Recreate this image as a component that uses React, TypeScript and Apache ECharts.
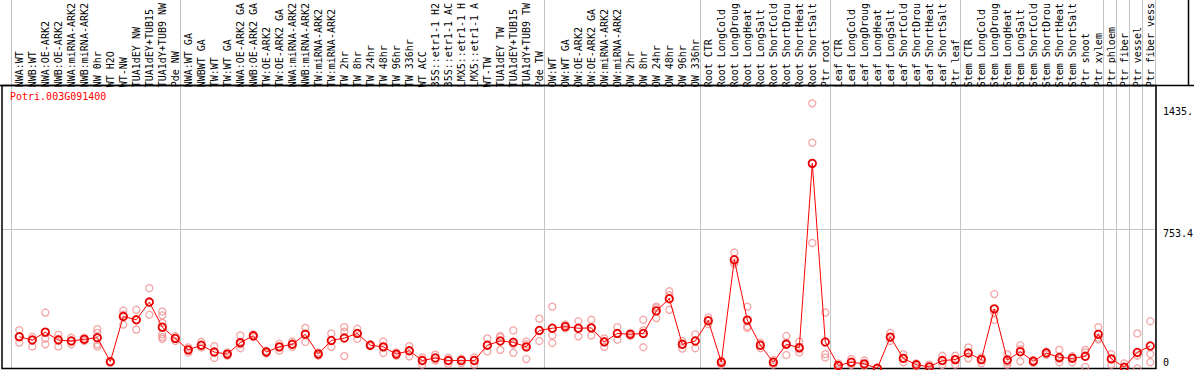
import React, { useEffect, useRef } from 'react';
import * as echarts from 'echarts';

const geneName = 'Potri.003G091400';

const categories = [
  'NWA:WT', 'NWB:WT', 'NWA:OE-ARK2', 'NWB:OE-ARK2', 'NWA:miRNA-ARK2', 'NWB:miRNA-ARK2', 'NW 0hr', 'WT H2O',
  'WT-NW', 'TUA1dEY NW', 'TUA1dEY+TUB15', 'TUA1dY+TUB9 NW', 'Pde NW',
  'NWA:WT GA', 'NWBWT GA', 'TW:WT', 'TW:WT GA', 'NWA:OE-ARK2 GA', 'NWB:OE-ARK2 GA', 'TW:OE-ARK2', 'TW:OE-ARK2 GA',
  'NWA:miRNA-ARK2', 'NWB:miRNA-ARK2', 'TW:miRNA-ARK2', 'TW:miRNA-ARK2', 'TW 2hr', 'TW 8hr', 'TW 24hr', 'TW 48hr',
  'TW 96hr', 'TW 336hr', 'WT ACC', '35S::etr1-1 H2', '35S::etr1-1 AC', 'LMX5::etr1-1 H', 'LMX5::etr1-1 A',
  'WT-TW', 'TUA1dEY TW', 'TUA1dEY+TUB15', 'TUA1dY+TUB9 TW', 'Pde TW',
  'OW:WT', 'OW:WT GA', 'OW:OE-ARK2', 'OW:OE-ARK2 GA', 'OW:miRNA-ARK2', 'OW:miRNA-ARK2', 'OW 2hr', 'OW 8hr',
  'OW 24hr', 'OW 48hr', 'OW 96hr', 'OW 336hr',
  'Root CTR', 'Root LongCold', 'Root LongDroug', 'Root LongHeat', 'Root LongSalt', 'Root ShortCold',
  'Root ShortDrou', 'Root ShortHeat', 'Root ShortSalt', 'Ptr root',
  'Leaf CTR', 'Leaf LongCold', 'Leaf LongDroug', 'Leaf LongHeat', 'Leaf LongSalt', 'Leaf ShortCold',
  'Leaf ShortDrou', 'Leaf ShortHeat', 'Leaf ShortSalt', 'Ptr leaf',
  'Stem CTR', 'Stem LongCold', 'Stem LongDroug', 'Stem LongHeat', 'Stem LongSalt', 'Stem ShortCold',
  'Stem ShortDrou', 'Stem ShortHeat', 'Stem ShortSalt', 'Ptr shoot', 'Ptr xylem',
  'Ptr phloem', 'Ptr fiber', 'Ptr vessel', 'Ptr fiber vess',
];

const means = [
  172, 154, 197, 154, 149, 158, 167, 37, 282, 264,
  360, 224, 163, 101, 126, 89, 78, 140, 177, 89,
  117, 131, 185, 78, 152, 165, 190, 126, 117, 78,
  96, 43, 57, 43, 43, 43, 126, 149, 142, 117,
  206, 218, 227, 218, 220, 144, 190, 185, 190, 312,
  378, 131, 149, 259, 34, 589, 262, 126, 34, 131,
  113, 1111, 144, 16, 34, 25, 1, 170, 55, 20,
  9, 43, 48, 84, 48, 323, 46, 91, 39, 84,
  60, 55, 66, 185, 52, 7, 87, 122,
];

const replicates = [
  [208, 172, 140], [172, 154, 119], [303, 161, 131], [183, 160, 119], [167, 149, 131],
  [167, 158, 149], [213, 193, 131, 119], [41, 37, 33], [314, 291, 238], [318, 264, 211],
  [435, 357, 291], [309, 288, 247, 185, 170, 160], [176, 163, 149], [114, 101, 87], [144, 126, 114],
  [121, 89, 57], [87, 78, 69], [179, 131, 110], [185, 177, 170], [96, 89, 82],
  [135, 117, 96], [146, 131, 117], [220, 190, 144], [87, 78, 69], [190, 152, 117],
  [224, 199, 67], [215, 190, 161], [131, 126, 121], [146, 117, 84], [87, 78, 69],
  [121, 96, 66], [60, 46, 21], [75, 57, 43], [59, 43, 25], [53, 43, 28],
  [60, 46, 21], [163, 126, 92], [176, 170, 101], [206, 131, 85], [146, 131, 117, 51],
  [270, 206, 149], [335, 179, 138], [238, 227, 217], [256, 218, 174], [264, 220, 179],
  [163, 149, 117], [224, 190, 156], [193, 185, 176], [264, 206, 115], [335, 327, 273],
  [419, 397, 318], [149, 131, 108], [185, 149, 110], [277, 259, 241], [43, 39, 21],
  [628, 575, 566], [335, 229, 220], [140, 126, 110], [46, 34, 21], [176, 140, 73],
  [146, 105, 87], [1436, 1223, 680], [303, 78, 60], [28, 16, 7], [52, 34, 20],
  [43, 25, 16], [3, 1, 0], [193, 170, 149], [78, 55, 34], [28, 20, 12],
  [21, 9, 0], [69, 43, 20], [69, 48, 21], [114, 84, 55], [60, 48, 28],
  [403, 300, 264], [78, 34, 21], [126, 105, 39], [46, 39, 32], [92, 84, 75],
  [101, 52, 34], [66, 60, 34], [101, 87, 9], [224, 167, 158], [78, 52, 21],
  [28, 7, 0], [190, 69, 0], [256, 78, 34],
];

// group separators (category-index coordinates)
const separators = [-0.64, 12.36, 40.36, 52.36, 62.36, 72.36, 83.36, 84.36, 85.36, 86.36, 87.36];

const yMax = 1506.8;
const yMid = 753.4;
const yTickLabels = ['0', '753.4', '1435.'];
const yTickValues = [0, 753.4, 1435];

const FONT = 'DejaVu Sans Mono';

export default function App() {
  const ref = useRef<HTMLDivElement>(null);

  useEffect(() => {
    document.body.style.margin = '0';
    const chart = echarts.init(ref.current as HTMLDivElement, null, { renderer: 'svg' });

    const gridLeft = 2;
    const gridTop = 85.5;
    const gridWidth = 1154;
    const gridHeight = 283;
    const xMin = (gridLeft - 19.3) / 13;
    const xMax = (gridLeft + gridWidth - 19.3) / 13;

    const repData: number[][] = [];
    replicates.forEach((arr, i) => arr.forEach((v) => repData.push([i, v])));

    chart.setOption({
      animation: false,
      title: {
        text: geneName,
        left: 10,
        top: 91,
        padding: 0,
        textStyle: { color: '#ff0000', fontFamily: FONT, fontSize: 10, fontWeight: 'normal' },
      },
      grid: { left: gridLeft, top: gridTop, width: gridWidth, height: gridHeight, show: false },
      xAxis: {
        type: 'value',
        position: 'top',
        min: xMin,
        max: xMax,
        axisLine: { show: false },
        axisTick: { show: false },
        splitLine: { show: false },
        axisLabel: {
          customValues: categories.map((_, i) => i),
          formatter: (v: number) => categories[Math.round(v)] ?? '',
          rotate: 90,
          margin: 3,
          fontFamily: FONT,
          fontSize: 10,
          color: '#000',
          hideOverlap: false,
        },
      },
      yAxis: {
        type: 'value',
        position: 'right',
        min: 0,
        max: yMax,
        axisLine: { show: false },
        axisTick: { show: false },
        axisLabel: { show: false },
        splitLine: { show: false },
      },
      series: [
        {
          type: 'scatter',
          data: repData,
          symbol: 'circle',
          symbolSize: 7,
          silent: true,
          z: 3,
          itemStyle: { color: 'rgba(0,0,0,0)', borderColor: '#f09090', borderWidth: 1.3 },
        },
        {
          type: 'line',
          data: means.map((v, i) => [i, v]),
          symbol: 'circle',
          symbolSize: 7.5,
          showAllSymbol: true,
          silent: true,
          z: 4,
          lineStyle: { color: '#ff0000', width: 1 },
          itemStyle: { color: 'rgba(0,0,0,0)', borderColor: '#e80000', borderWidth: 1.8 },
        },
      ],
    });

    const px = (x: number, y: number) => chart.convertToPixel({ gridIndex: 0 }, [x, y]) as number[];
    const bottom = gridTop + gridHeight;
    const right = gridLeft + gridWidth;
    const gray = '#c4c4c4';
    const graphics: any[] = [];

    separators.forEach((s) => {
      const x = Math.round(px(s, 0)[0]) + 0.5;
      graphics.push({
        type: 'line', z: 1, silent: true,
        shape: { x1: x, y1: 0, x2: x, y2: bottom },
        style: { stroke: gray, lineWidth: 1 },
      });
    });
    const yMidPx = Math.round(px(0, yMid)[1]) + 0.5;
    graphics.push({
      type: 'line', z: 1, silent: true,
      shape: { x1: gridLeft, y1: yMidPx, x2: right, y2: yMidPx },
      style: { stroke: gray, lineWidth: 1 },
    });
    // plot frame
    graphics.push({
      type: 'rect', z: 2, silent: true,
      shape: { x: gridLeft, y: gridTop, width: gridWidth, height: gridHeight },
      style: { fill: 'none', stroke: '#000', lineWidth: 1.5 },
    });
    graphics.push({
      type: 'line', z: 2, silent: true,
      shape: { x1: 0, y1: gridTop, x2: 1194, y2: gridTop },
      style: { stroke: '#000', lineWidth: 1.5 },
    });
    graphics.push({
      type: 'line', z: 2, silent: true,
      shape: { x1: 1188.5, y1: 0, x2: 1188.5, y2: gridTop },
      style: { stroke: '#000', lineWidth: 1.5 },
    });
    // right axis labels
    yTickValues.forEach((v, i) => {
      const y = px(0, v)[1];
      const isZero = v === 0;
      graphics.push({
        type: 'text', z: 5, silent: true,
        x: right + 7,
        y: isZero ? y - 1 : (i === 2 ? y + 3 : y - 0.5),
        style: {
          text: yTickLabels[i],
          fill: '#000',
          font: `10px "${FONT}"`,
          textAlign: 'left',
          textVerticalAlign: isZero ? 'bottom' : 'top',
        },
      });
    });

    chart.setOption({ graphic: graphics });

    return () => chart.dispose();
  }, []);

  return <div ref={ref} style={{ position: 'absolute', left: 0, top: 0, width: 1194, height: 370 }} />;
}
